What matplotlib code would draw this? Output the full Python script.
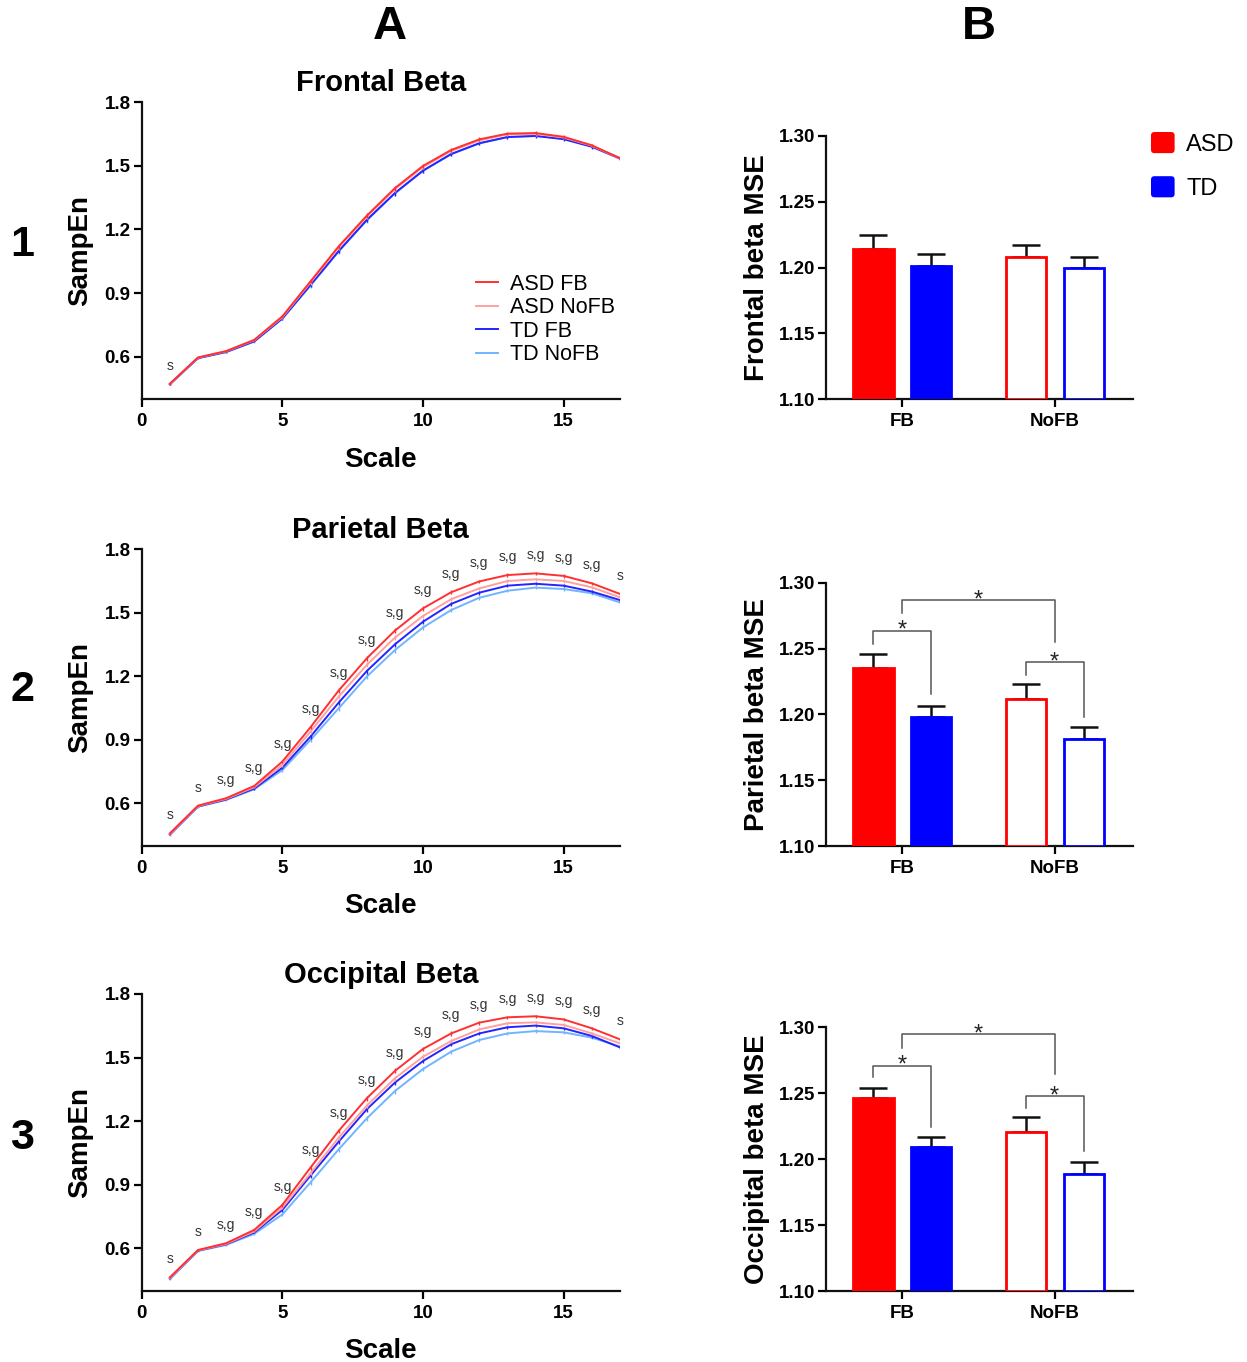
import matplotlib
matplotlib.use("Agg")
import matplotlib.pyplot as plt
from matplotlib.lines import Line2D
from matplotlib.patches import Patch, FancyBboxPatch
from matplotlib.legend_handler import HandlerBase
import numpy as np

plt.rcParams['font.family'] = ['Liberation Sans', 'DejaVu Sans']

# ---------------- data ----------------
scales = list(range(1, 18))

regions = ["Frontal Beta", "Parietal Beta", "Occipital Beta"]
series_names = ["ASD FB", "ASD NoFB", "TD FB", "TD NoFB"]

frontal_asd_fb   = [0.472, 0.596, 0.626, 0.679, 0.790, 0.955, 1.120, 1.265, 1.395, 1.500, 1.575, 1.625, 1.652, 1.655, 1.637, 1.597, 1.536]
frontal_asd_nofb = [0.470, 0.595, 0.625, 0.677, 0.786, 0.950, 1.115, 1.260, 1.390, 1.494, 1.570, 1.620, 1.648, 1.651, 1.634, 1.595, 1.535]
frontal_td_fb    = [0.470, 0.593, 0.622, 0.672, 0.780, 0.938, 1.098, 1.245, 1.372, 1.478, 1.556, 1.607, 1.636, 1.641, 1.626, 1.590, 1.534]
frontal_td_nofb  = [0.468, 0.592, 0.621, 0.671, 0.779, 0.936, 1.096, 1.243, 1.370, 1.476, 1.555, 1.606, 1.636, 1.642, 1.628, 1.592, 1.538]

parietal_asd_fb   = [0.458, 0.589, 0.624, 0.682, 0.797, 0.959, 1.132, 1.284, 1.415, 1.520, 1.596, 1.647, 1.677, 1.685, 1.673, 1.638, 1.588]
parietal_asd_nofb = [0.455, 0.587, 0.621, 0.676, 0.781, 0.938, 1.103, 1.253, 1.382, 1.484, 1.563, 1.614, 1.649, 1.657, 1.649, 1.619, 1.572]
parietal_td_fb    = [0.453, 0.585, 0.618, 0.670, 0.768, 0.915, 1.075, 1.224, 1.350, 1.457, 1.541, 1.594, 1.627, 1.636, 1.627, 1.599, 1.559]
parietal_td_nofb  = [0.451, 0.584, 0.616, 0.666, 0.757, 0.899, 1.048, 1.198, 1.323, 1.430, 1.512, 1.570, 1.603, 1.618, 1.611, 1.591, 1.548]

occipital_asd_fb   = [0.463, 0.592, 0.624, 0.687, 0.805, 0.981, 1.154, 1.308, 1.437, 1.541, 1.614, 1.665, 1.690, 1.695, 1.680, 1.638, 1.586]
occipital_asd_nofb = [0.460, 0.590, 0.621, 0.680, 0.792, 0.954, 1.122, 1.273, 1.402, 1.504, 1.578, 1.633, 1.662, 1.666, 1.654, 1.614, 1.567]
occipital_td_fb    = [0.458, 0.589, 0.619, 0.675, 0.781, 0.943, 1.103, 1.256, 1.382, 1.484, 1.563, 1.614, 1.643, 1.651, 1.638, 1.602, 1.548]
occipital_td_nofb  = [0.455, 0.587, 0.616, 0.668, 0.760, 0.911, 1.067, 1.213, 1.342, 1.446, 1.528, 1.583, 1.614, 1.625, 1.619, 1.594, 1.552]

line_sem = [0.004, 0.004, 0.004, 0.005, 0.008, 0.010, 0.011, 0.012, 0.012, 0.011, 0.010, 0.009, 0.008, 0.008, 0.008, 0.008, 0.008]

frontal_sig   = ["s"] + [""] * 16
parietal_sig  = ["s", "s"] + ["s,g"] * 14 + ["s"]
occipital_sig = ["s", "s"] + ["s,g"] * 14 + ["s"]

bar_groups = ["FB", "NoFB"]
bar_labels = ["Frontal beta MSE", "Parietal beta MSE", "Occipital beta MSE"]
# order: ASD FB, TD FB, ASD NoFB, TD NoFB
frontal_bar_means   = [1.214, 1.201, 1.208, 1.200]
frontal_bar_sem     = [0.011, 0.009, 0.009, 0.008]
parietal_bar_means  = [1.235, 1.198, 1.212, 1.181]
parietal_bar_sem    = [0.011, 0.008, 0.011, 0.0095]
occipital_bar_means = [1.246, 1.2095, 1.2205, 1.1885]
occipital_bar_sem   = [0.008, 0.007, 0.0115, 0.009]

# brackets: (left index, right index, bar height, left leg end, right leg end)
# indices 0..3 are bars, 'g0'/'g1' are group centres
parietal_brackets  = [(0, 1, 1.2635, 1.2534, 1.2154), ("g0", "g1", 1.2868, 1.2767, 1.2552), (2, 3, 1.2395, 1.2299, 1.1980)]
occipital_brackets = [(0, 1, 1.2709, 1.2620, 1.2241), ("g0", "g1", 1.2947, 1.2841, 1.2646), (2, 3, 1.2479, 1.2386, 1.2064)]
frontal_brackets = []

line_data = [
    [frontal_asd_fb, frontal_asd_nofb, frontal_td_fb, frontal_td_nofb],
    [parietal_asd_fb, parietal_asd_nofb, parietal_td_fb, parietal_td_nofb],
    [occipital_asd_fb, occipital_asd_nofb, occipital_td_fb, occipital_td_nofb],
]
sig_data = [frontal_sig, parietal_sig, occipital_sig]
bar_means = [frontal_bar_means, parietal_bar_means, occipital_bar_means]
bar_sems = [frontal_bar_sem, parietal_bar_sem, occipital_bar_sem]
bracket_data = [frontal_brackets, parietal_brackets, occipital_brackets]

# ---------------- style ----------------
line_colors = ["#ff3030", "#ffa0a0", "#2424ff", "#70b4ff"]
RED = "#ff0000"
BLUE = "#0000ff"

W, H = 1247, 1362
fig = plt.figure(figsize=(W / 100, H / 100), dpi=100)

def fx(px):
    return px / W

def fy(py):
    return 1 - py / H

line_boxes = [(102.3, 399.0), (549.0, 845.7), (994.0, 1290.7)]
bar_boxes = [(135.7, 399.3), (582.7, 846.0), (1027.3, 1291.0)]
LX0, LX1 = 141.7, 620.0
BX0, BX1 = 826.3, 1133.0


class RoundSquare(HandlerBase):
    def create_artists(self, legend, orig_handle, xdescent, ydescent, width, height,
                       fontsize, trans):
        p = FancyBboxPatch((-xdescent, -ydescent), width, height,
                           boxstyle="round,pad=0,rounding_size=2.5",
                           facecolor=orig_handle.get_facecolor(), edgecolor="none",
                           transform=trans)
        return [p]


def style_axes(ax):
    for s in ["top", "right"]:
        ax.spines[s].set_visible(False)
    for s in ["left", "bottom"]:
        ax.spines[s].set_linewidth(1.6)
        ax.spines[s].set_color("#111111")
    ax.tick_params(direction="out", length=5.5, width=1.6, labelsize=13.5, pad=2.5)
    ax.tick_params(axis="x", pad=4.5)
    for lab in ax.get_xticklabels() + ax.get_yticklabels():
        lab.set_fontweight("bold")

for r in range(3):
    # ---------- line panel ----------
    top, bot = line_boxes[r]
    ax = fig.add_axes([fx(LX0), fy(bot), fx(LX1 - LX0), fy(top) - fy(bot)])
    order = [3, 2, 1, 0]
    for i in order:
        ax.errorbar(scales, line_data[r][i], yerr=line_sem, color=line_colors[i],
                    lw=1.4, elinewidth=1.0, capsize=0, zorder=3 + (3 - i))
    asd_fb = line_data[r][0]
    for x, lab, y in zip(scales, sig_data[r], asd_fb):
        if lab:
            ax.text(x, y + 0.085, lab, ha="center", va="center", fontsize=10,
                    color="#333333", clip_on=False)
    ax.set_xlim(0, 17)
    ax.set_ylim(0.4, 1.8)
    ax.set_xticks([0, 5, 10, 15])
    ax.set_yticks([0.6, 0.9, 1.2, 1.5, 1.8])
    ax.set_yticklabels(["0.6", "0.9", "1.2", "1.5", "1.8"])
    style_axes(ax)
    ax.set_xlabel("Scale", fontsize=20, fontweight="bold", labelpad=12)
    ax.set_ylabel("SampEn", fontsize=20, fontweight="bold", labelpad=8)
    ax.set_title(regions[r], fontsize=21, fontweight="bold", pad=8)
    if r == 0:
        handles = [Line2D([], [], color=line_colors[i], lw=1.4) for i in range(4)]
        ax.legend(handles, series_names, loc="center left", bbox_to_anchor=(0.699, 0.268),
                  frameon=False, fontsize=15.5, handlelength=1.0, handletextpad=0.6,
                  labelspacing=0.12, borderpad=0, borderaxespad=0)

    # ---------- bar panel ----------
    top, bot = bar_boxes[r]
    bx = fig.add_axes([fx(BX0), fy(bot), fx(BX1 - BX0), fy(top) - fy(bot)])
    group_x = np.arange(len(bar_groups))
    off = 0.19
    bw = 0.263
    xs = [group_x[0] - off, group_x[0] + off, group_x[1] - off, group_x[1] + off]
    means = bar_means[r]
    sems = bar_sems[r]
    faces = [RED, BLUE, "white", "white"]
    edges = [RED, BLUE, RED, BLUE]
    for x, m, e, fc, ec in zip(xs, means, sems, faces, edges):
        bx.bar(x, m - 1.10, bottom=1.10, width=bw, color=fc, edgecolor=ec,
               linewidth=2.0, zorder=3)
        bx.errorbar([x], [m], yerr=[[0], [e]], color="#111111", elinewidth=1.8,
                    capsize=10, capthick=1.8, zorder=2)
    pos = {0: xs[0], 1: xs[1], 2: xs[2], 3: xs[3], "g0": group_x[0], "g1": group_x[1]}
    for (a, b, yb, ya, yc) in bracket_data[r]:
        xa, xb2 = pos[a], pos[b]
        bx.plot([xa, xa, xb2, xb2], [ya, yb, yb, yc], color="#555555", lw=1.1,
                zorder=4, clip_on=False)
        bx.annotate("*", xy=((xa + xb2) / 2, yb), xytext=(0, -4.5), textcoords="offset points",
                    ha="center", va="baseline", fontsize=17, color="#222222",
                    annotation_clip=False)
    bx.set_xlim(-0.5, 1.515)
    bx.set_ylim(1.10, 1.30)
    bx.set_xticks(group_x)
    bx.set_xticklabels(bar_groups)
    bx.set_yticks([1.10, 1.15, 1.20, 1.25, 1.30])
    bx.set_yticklabels(["1.10", "1.15", "1.20", "1.25", "1.30"])
    style_axes(bx)
    bx.set_ylabel(bar_labels[r], fontsize=20, fontweight="bold", labelpad=6)

# bar legend
leg_handles = [Patch(facecolor=RED, edgecolor=RED), Patch(facecolor=BLUE, edgecolor=BLUE)]
fig.legend(leg_handles, ["ASD", "TD"], loc="upper left",
           bbox_to_anchor=(fx(1151), fy(132)), frameon=False, fontsize=17,
           handlelength=1.0, handleheight=1.0, handletextpad=0.5,
           labelspacing=0.87, borderpad=0, borderaxespad=0,
           handler_map={Patch: RoundSquare()})

# panel letters / row numbers
fig.text(fx(390), fy(27), "A", fontsize=34, fontweight="bold", ha="center", va="center")
fig.text(fx(979), fy(27), "B", fontsize=34, fontweight="bold", ha="center", va="center")
for py, lab in zip([245, 690, 1138], ["1", "2", "3"]):
    fig.text(fx(22), fy(py), lab, fontsize=31, fontweight="bold", ha="center", va="center")

fig.savefig("out.png", dpi=100)
